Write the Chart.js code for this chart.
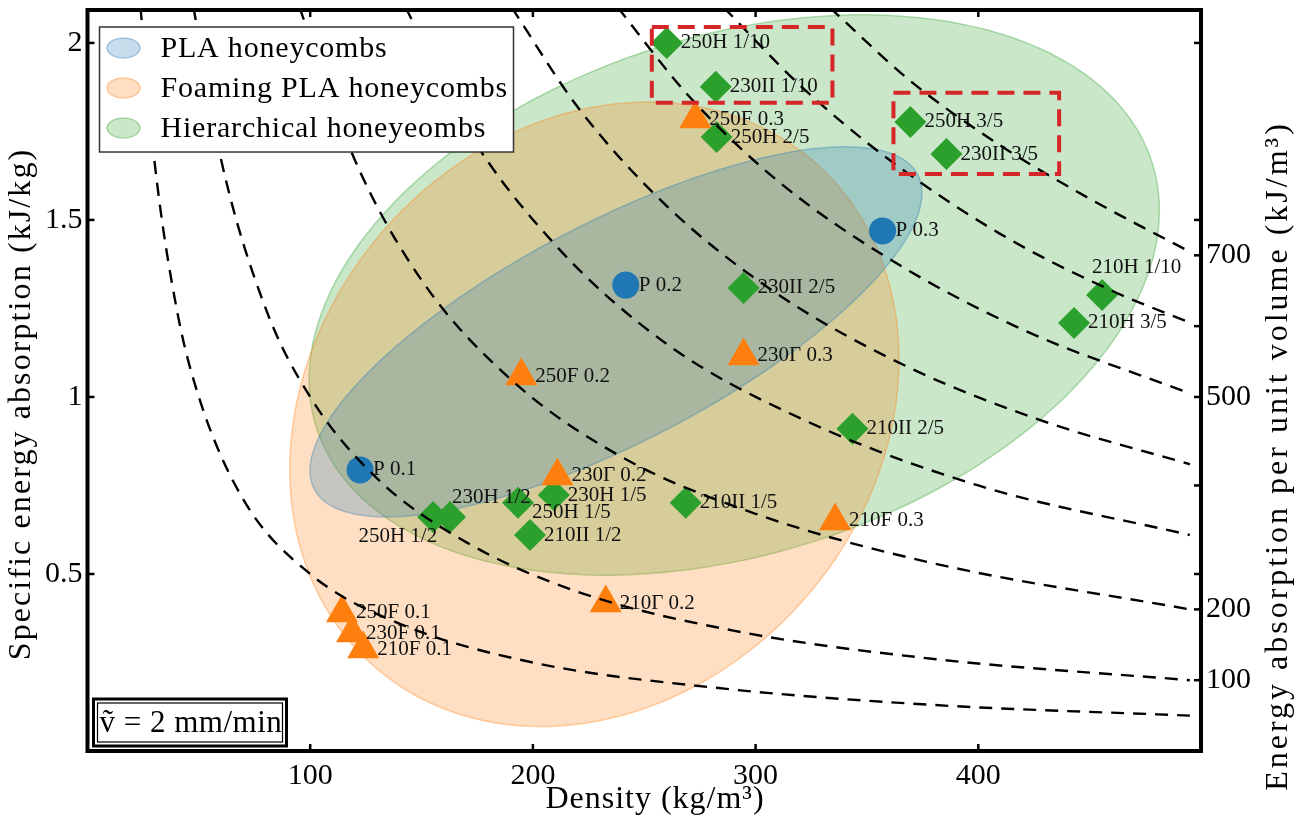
<!DOCTYPE html>
<html lang="en">
<head>
<meta charset="UTF-8" />
<title>Specific energy absorption vs density</title>
<script src="https://cdn.jsdelivr.net/npm/chart.js@4.4.1/dist/chart.umd.min.js"></script>
<style>
  html, body { margin: 0; padding: 0; background: #fff; }
</style>
</head>
<body>
<canvas id="chart" width="1306" height="827"></canvas>
<script>
const serif = "'Liberation Serif', 'Times New Roman', serif";

// PLA honeycombs (circles)
const plaNames = ["P 0.1", "P 0.2", "P 0.3"];
const plaDensity = [122.4, 241.7, 357.0];
const plaSea = [0.794, 1.316, 1.469];

// Foaming PLA honeycombs (triangles)
const foamNames = ["250F 0.1", "230F 0.1", "210F 0.1", "250F 0.2", "230Γ 0.2", "210Γ 0.2", "250F 0.3", "230Γ 0.3", "210F 0.3"];
const foamDensity = [114.3, 118.8, 123.8, 194.8, 211.0, 232.7, 272.9, 294.6, 335.7];
const foamSea = [0.390, 0.333, 0.288, 1.059, 0.777, 0.418, 1.785, 1.116, 0.650];

// Hierarchical honeycombs (diamonds)
const hierNames = ["250H 1/10", "230II 1/10", "250H 2/5", "250H 3/5", "230II 3/5", "230II 2/5", "210H 1/10", "210H 3/5",
  "210II 2/5", "210II 1/5", "230H 1/5", "250H 1/5", "210II 1/2", "230H 1/2", "250H 1/2"];
const hierDensity = [260.1, 282.1, 282.5, 369.5, 385.7, 294.6, 455.6, 443.0, 343.5, 268.6, 209.4, 193.3, 198.7, 162.8, 155.2];
const hierSea = [2.000, 1.876, 1.734, 1.777, 1.686, 1.308, 1.288, 1.209, 0.910, 0.701, 0.723, 0.701, 0.610, 0.661, 0.661];

// iso energy-per-volume curves (kJ/m3) [density, SEA]
const iso50 = [[23.8, 2.10], [30, 1.67], [40, 1.25], [50, 1.00], [70, 0.71], [100, 0.50], [140, 0.36], [200, 0.25], [280, 0.18], [380, 0.13], [495, 0.10]];
const iso100 = [[47.6, 2.10], [60, 1.67], [80, 1.25], [100, 1.00], [130, 0.77], [170, 0.59], [220, 0.45], [290, 0.34], [380, 0.26], [495, 0.20]];
const iso200 = [[95.2, 2.10], [120, 1.67], [150, 1.33], [190, 1.05], [240, 0.83], [300, 0.67], [380, 0.53], [495, 0.40]];
const iso300 = [[142.9, 2.10], [170, 1.76], [210, 1.43], [260, 1.15], [320, 0.94], [400, 0.75], [495, 0.61]];
const iso400 = [[190.5, 2.10], [220, 1.82], [260, 1.54], [310, 1.29], [370, 1.08], [430, 0.93], [495, 0.81]];
const iso500 = [[238.1, 2.10], [270, 1.85], [310, 1.61], [360, 1.39], [420, 1.19], [495, 1.01]];
const iso600 = [[285.7, 2.10], [320, 1.88], [360, 1.67], [410, 1.46], [460, 1.30], [495, 1.21]];
const iso700 = [[333.3, 2.10], [370, 1.89], [410, 1.71], [450, 1.56], [495, 1.41]];
const isoCurves = [iso50, iso100, iso200, iso300, iso400, iso500, iso600, iso700];

// shaded regions: centre and semi-axis vectors in data units
const regionPla = { center: [237.3, 1.184], major: [135.5, 0.444], minor: [22.8, -0.276] };
const regionFoam = { center: [227.6, 0.951], major: [99.1, 0.711], minor: [94.3, -0.522] };
const regionHier = { center: [290.4, 1.288], major: [187.7, 0.373], minor: [34.9, -0.698] };

// red dashed highlight boxes [xMin, xMax, yMin, yMax]
const highlightBoxes = [[253.4, 334.5, 1.831, 2.045], [361.9, 436.3, 1.630, 1.859]];

const xTicks = [100, 200, 300, 400];
const yTicks = [0.5, 1, 1.5, 2];
const rightTicks = [100, 200, 250, 375, 500, 600, 700, 750, 1000];
const rightLabelled = [100, 200, 500, 700];
const groupNames = ["PLA honeycombs", "Foaming PLA honeycombs", "Hierarchical honeyeombs"];

const blue = "#1f77b4", orange = "#ff7f0e", green = "#2ca02c", red = "#d62728";
const fillA = { blue: "rgba(31,119,180,0.25)", orange: "rgba(255,127,14,0.25)", green: "rgba(44,160,44,0.25)" };
const edgeA = { blue: "rgba(31,119,180,0.35)", orange: "rgba(255,127,14,0.35)", green: "rgba(44,160,44,0.35)" };

const yMax = 2.093;

// label placement tweaks: [dx, dy, align]
const labelNudge = {
  "230H 1/2": [2, -19, "left"],
  "250H 1/2": [4, 20, "right"],
  "210H 1/10": [-10, -28, "left"],
  "250H 1/5": [14, 10, "left"]
};

function pts(xs, ys) { return xs.map((x, i) => ({ x: x, y: ys[i] })); }

const datasets = [
  { label: "PLA", data: pts(plaDensity, plaSea), names: plaNames, gap: 13, pointStyle: "circle", pointRadius: 13.5,
    backgroundColor: blue, borderColor: blue, borderWidth: 0, order: 2 },
  { label: "Foaming", data: pts(foamDensity, foamSea), names: foamNames, gap: 14, pointStyle: "triangle", pointRadius: 18.5,
    backgroundColor: orange, borderColor: orange, borderWidth: 0, order: 2 },
  { label: "Hierarchical", data: pts(hierDensity, hierSea), names: hierNames, gap: 14, pointStyle: "rectRot", pointRadius: 16,
    backgroundColor: green, borderColor: green, borderWidth: 0, order: 2 }
];
isoCurves.forEach((c) => {
  datasets.push({
    label: "iso", data: c.map((p) => ({ x: p[0], y: p[1] })), showLine: true, pointRadius: 0,
    borderColor: "#000", borderWidth: 2.4, borderDash: [13, 9], cubicInterpolationMode: "monotone", order: 1
  });
});

function regionPath(ctx, sx, sy, r) {
  ctx.beginPath();
  for (let k = 0; k <= 160; k++) {
    const t = k / 160 * Math.PI * 2;
    const d = r.center[0] + Math.cos(t) * r.major[0] + Math.sin(t) * r.minor[0];
    const e = r.center[1] + Math.cos(t) * r.major[1] + Math.sin(t) * r.minor[1];
    const px = sx.getPixelForValue(d), py = sy.getPixelForValue(e);
    if (k) ctx.lineTo(px, py); else ctx.moveTo(px, py);
  }
  ctx.closePath();
}

const decor = {
  id: "decor",
  beforeDatasetsDraw(chart) {
    const { ctx, chartArea: a, scales } = chart;
    ctx.save();
    ctx.beginPath();
    ctx.rect(a.left, a.top, a.right - a.left, a.bottom - a.top);
    ctx.clip();
    [[regionHier, "green"], [regionFoam, "orange"], [regionPla, "blue"]].forEach(([r, c]) => {
      regionPath(ctx, scales.x, scales.y, r);
      ctx.fillStyle = fillA[c];
      ctx.fill();
      ctx.strokeStyle = edgeA[c];
      ctx.lineWidth = 1.5;
      ctx.stroke();
    });
    ctx.restore();
  },
  afterDatasetDraw(chart, args) {
    const ds = chart.data.datasets[args.index];
    if (!ds.names) return;
    const ctx = chart.ctx;
    ctx.save();
    ctx.font = "21px " + serif;
    ctx.fillStyle = "#111";
    ctx.textBaseline = "middle";
    args.meta.data.forEach((el, i) => {
      const name = ds.names[i];
      const n = labelNudge[name];
      ctx.textAlign = n ? n[2] : "left";
      ctx.fillText(name, el.x + (n ? n[0] : ds.gap), el.y + (n ? n[1] : 0));
    });
    ctx.restore();
  },
  afterDatasetsDraw(chart) {
    const { ctx, chartArea: a, scales } = chart;
    ctx.save();
    // red dashed boxes
    ctx.strokeStyle = red;
    ctx.lineWidth = 4;
    ctx.setLineDash([17, 9]);
    highlightBoxes.forEach((b) => {
      const x0 = scales.x.getPixelForValue(b[0]), x1 = scales.x.getPixelForValue(b[1]);
      const y0 = scales.y.getPixelForValue(b[3]), y1 = scales.y.getPixelForValue(b[2]);
      ctx.strokeRect(x0, y0, x1 - x0, y1 - y0);
    });
    ctx.setLineDash([]);

    // legend
    const lx = a.left + 12, ly = a.top + 17;
    ctx.fillStyle = "#fff";
    ctx.fillRect(lx, ly, 414, 125);
    ctx.strokeStyle = "#333";
    ctx.lineWidth = 1.5;
    ctx.strokeRect(lx, ly, 414, 125);
    ctx.font = "30px " + serif;
    ctx.letterSpacing = "0.8px";
    ctx.textBaseline = "middle";
    ctx.textAlign = "left";
    ["blue", "orange", "green"].forEach((c, i) => {
      const cy = ly + 21 + i * 40;
      ctx.beginPath();
      ctx.ellipse(lx + 24, cy, 16.5, 10, 0, 0, Math.PI * 2);
      ctx.fillStyle = fillA[c];
      ctx.fill();
      ctx.strokeStyle = edgeA[c];
      ctx.lineWidth = 1.5;
      ctx.stroke();
      ctx.fillStyle = "#000";
      ctx.fillText(groupNames[i], lx + 61, cy + 1);
    });

    // loading-rate box
    const bx = a.left + 6, by = a.bottom - 52;
    ctx.fillStyle = "#fff";
    ctx.fillRect(bx, by, 193, 47);
    ctx.strokeStyle = "#000";
    ctx.lineWidth = 3;
    ctx.strokeRect(bx, by, 193, 47);
    ctx.lineWidth = 1.2;
    ctx.strokeRect(bx + 4, by + 4, 185, 39);
    ctx.fillStyle = "#000";
    ctx.font = "31px " + serif;
    ctx.letterSpacing = "0.5px";
    ctx.fillText("\u1E7D = 2 mm/min", bx + 6, by + 25);
    ctx.restore();
  },
  afterDraw(chart) {
    const { ctx, chartArea: a, scales } = chart;
    ctx.save();
    ctx.strokeStyle = "#000";
    ctx.lineWidth = 2.5;
    const tick = (x0, y0, x1, y1) => { ctx.beginPath(); ctx.moveTo(x0, y0); ctx.lineTo(x1, y1); ctx.stroke(); };
    xTicks.forEach((v) => {
      const px = scales.x.getPixelForValue(v);
      tick(px, a.bottom, px, a.bottom - 7);
      tick(px, a.top, px, a.top + 7);
    });
    yTicks.forEach((v) => {
      const py = scales.y.getPixelForValue(v);
      tick(a.left, py, a.left + 7, py);
    });
    rightTicks.forEach((v) => {
      const py = scales.y2.getPixelForValue(v);
      tick(a.right, py, a.right - 7, py);
    });
    ctx.lineWidth = 4;
    ctx.strokeRect(a.left, a.top, a.right - a.left, a.bottom - a.top);

    // axis titles
    ctx.fillStyle = "#000";
    ctx.font = "32px " + serif;
    ctx.textAlign = "center";
    ctx.textBaseline = "middle";
    ctx.letterSpacing = "1px";
    ctx.fillText("Density (kg/m\u00B3)", 655, 800);
    ctx.save();
    ctx.letterSpacing = "2.1px";
    ctx.translate(22, 404);
    ctx.rotate(-Math.PI / 2);
    ctx.fillText("Specific energy absorption (kJ/kg)", 0, 0);
    ctx.restore();
    ctx.save();
    ctx.letterSpacing = "3px";
    ctx.translate(1279, 456);
    ctx.rotate(-Math.PI / 2);
    ctx.fillText("Energy absorption per unit volume (kJ/m\u00B3)", 0, 0);
    ctx.restore();
    ctx.restore();
  }
};

const tickFont = { family: serif, size: 30 };
const noPad = (s) => { s.paddingTop = 0; s.paddingBottom = 0; s.paddingLeft = 0; s.paddingRight = 0; };

new Chart(document.getElementById("chart"), {
  type: "scatter",
  data: { datasets: datasets },
  options: {
    responsive: false,
    animation: false,
    devicePixelRatio: 1,
    layout: { autoPadding: false, padding: { top: 10, left: 0, right: 0, bottom: 0 } },
    plugins: { legend: { display: false }, tooltip: { enabled: false } },
    scales: {
      x: {
        type: "linear", min: 0, max: 500, position: "bottom",
        grid: { display: false, drawTicks: false }, border: { display: false },
        afterBuildTicks: (s) => { s.ticks = xTicks.map((v) => ({ value: v })); },
        afterFit: (s) => { s.height = 76; noPad(s); },
        ticks: { font: tickFont, color: "#000", padding: 7, autoSkip: false, maxRotation: 0 }
      },
      y: {
        type: "linear", min: 0, max: yMax, position: "left",
        grid: { display: false, drawTicks: false }, border: { display: false },
        afterBuildTicks: (s) => { s.ticks = yTicks.map((v) => ({ value: v })); },
        afterFit: (s) => { s.width = 87.5; noPad(s); },
        ticks: { font: tickFont, color: "#000", padding: 5, autoSkip: false, callback: (v) => String(v) }
      },
      y2: {
        type: "linear", min: 0, max: yMax * 500, position: "right",
        grid: { display: false, drawTicks: false }, border: { display: false },
        afterBuildTicks: (s) => { s.ticks = rightTicks.map((v) => ({ value: v })); },
        afterFit: (s) => { s.width = 105; noPad(s); },
        ticks: { font: tickFont, color: "#000", padding: 5, autoSkip: false,
          callback: (v) => (rightLabelled.includes(v) ? String(v) : "") }
      }
    }
  },
  plugins: [decor]
});
</script>
</body>
</html>
